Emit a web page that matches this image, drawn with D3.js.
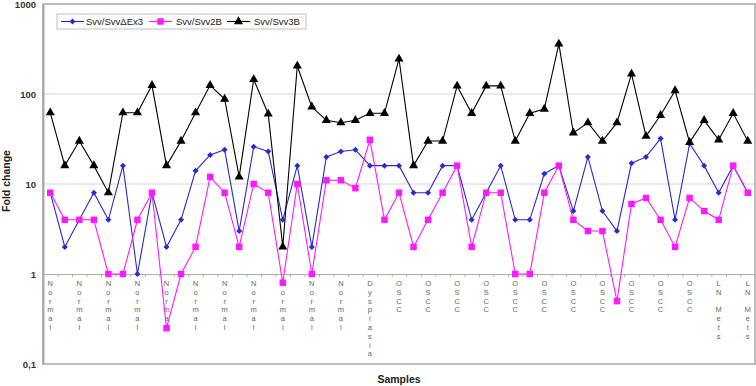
<!DOCTYPE html>
<html><head><meta charset="utf-8">
<script src="https://cdn.jsdelivr.net/npm/d3@7"></script>
<style>body{margin:0;background:#fff}svg{display:block;font-family:"Liberation Sans",Arial,sans-serif}</style>
</head><body><svg id="c" width="756" height="386"></svg>
<script>
const categories = [
 "Normal","Normal","Normal","Normal","Normal","Normal","Normal","Normal","Normal","Normal","Normal",
 "Normal","Normal","Normal","Normal","Normal","Normal","Normal","Normal","Normal","Normal","Normal",
 "Dysplasia","Dysplasia",
 "OSCC","OSCC","OSCC","OSCC","OSCC","OSCC","OSCC","OSCC","OSCC","OSCC","OSCC","OSCC","OSCC","OSCC",
 "OSCC","OSCC","OSCC","OSCC","OSCC","OSCC","OSCC","OSCC",
 "LN Mets","LN Mets","LN Mets"];
const seriesNames = ["Svv/Svv\u0394Ex3","Svv/Svv2B","Svv/Svv3B"];
const svvDEx3 = [8,2,4,8,4,16,1,8,2,4,14,21,24,3,26,23,4,16,2,20,23,24,16,16,16,8,8,16,16,4,8,16,4,4,13,16,5,20,5,3,17,20,32,4,28,16,8,16,8];
const svv2B  = [8,4,4,4,1,1,4,8,0.25,1,2,12,8,2,10,8,0.8,10,1,11,11,9,31,4,8,2,4,8,16,2,8,8,1,1,8,16,4,3,3,0.5,6,7,4,2,7,5,4,16,8];
const svv3B  = [62,16,30,16,8,62,62,125,16,30,62,125,88,12,145,60,2,205,72,51,48,51,61,61,245,16,30,30,123,61,123,123,30,61,68,360,37,48,30,48,167,34,58,109,29,51,31,61,30];
const yTicks = [0.1,1,10,100,1000];
const yTickLabels = ["0,1","1","10","100","1000"];

const svg = d3.select("#c");
const L=43,R=755,T=4,B=364;
const x = d3.scaleBand().domain(d3.range(categories.length)).range([L,R]);
const xb = d3.scaleLinear().domain([0,categories.length]).range([L,R]);
const y = d3.scaleLog().domain([0.1,1000]).range([B,T]);
const cx = i => x(i)+x.bandwidth()/2;

// gridlines
svg.append("g").selectAll("line").data([10,100]).join("line")
 .attr("x1",L).attr("x2",R).attr("y1",d=>y(d)).attr("y2",d=>y(d))
 .attr("stroke","#d4d4d4").attr("stroke-width",1);

// plot border
svg.append("rect").attr("x",L).attr("y",T).attr("width",R-L).attr("height",B-T)
 .attr("fill","none").attr("stroke","#a8a8a8").attr("stroke-width",1.5);

// category axis at y=1
const xa = svg.append("g").attr("transform",`translate(0,${y(1)})`)
 .call(d3.axisBottom(xb).tickValues(d3.range(0,categories.length+1)).tickFormat("").tickSize(3).tickSizeOuter(0));
xa.select(".domain").attr("stroke","#b0b0b0");
xa.selectAll(".tick line").attr("stroke","#b0b0b0");

// category labels (every other), vertical stacked letters
const lab = svg.append("g").attr("font-size",7.5).attr("fill","#666").attr("text-anchor","middle");
categories.forEach((c,i)=>{
  if(i%2) return;
  const t = lab.append("text").attr("x",cx(i)).attr("y",y(1)+12);
  c.split("").forEach((ch,k)=>{
    t.append("tspan").attr("x",cx(i)).attr("y",y(1)+12+k*8.8).text(ch===" "?"\u00a0":ch);
  });
});

// y axis
const ya = svg.append("g").attr("transform",`translate(${L},0)`)
 .call(d3.axisLeft(y).tickValues(yTicks).tickFormat((d,i)=>yTickLabels[i]).tickSize(0).tickPadding(7));
ya.select(".domain").attr("stroke","#a8a8a8").attr("stroke-width",2);
ya.selectAll("text").attr("font-size",9.5).attr("font-weight","bold").attr("fill","#333").attr("font-family","Liberation Sans,Arial,sans-serif");

// axis titles
svg.append("text").attr("transform","translate(10,181) rotate(-90)").attr("text-anchor","middle")
 .attr("font-size",10.5).attr("font-weight","bold").attr("fill","#222").text("Fold change");
svg.append("text").attr("x",399).attr("y",383).attr("text-anchor","middle")
 .attr("font-size",10.5).attr("font-weight","bold").attr("fill","#222").text("Samples");

// series
const colors = ["#2a2ad0","#ff19ff","#000000"];
const data = [svvDEx3, svv2B, svv3B];
const line = d3.line().x((d,i)=>cx(i)).y(d=>y(d));
const symbols = [d3.symbolSquare, d3.symbolSquare, d3.symbolTriangle];
const symSize = [18,42,36];
const rot = [45,0,0];
data.forEach((s,k)=>{
  svg.append("path").datum(s).attr("d",line).attr("fill","none").attr("stroke",colors[k]).attr("stroke-width",1.1);
});
data.forEach((s,k)=>{
  svg.append("g").selectAll("path").data(s).join("path")
   .attr("transform",(d,i)=>`translate(${cx(i)},${y(d)}) rotate(${rot[k]})`)
   .attr("d",d3.symbol().type(symbols[k]).size(symSize[k])).attr("fill",colors[k]);
});

// legend
const lg = svg.append("g");
lg.append("rect").attr("x",57).attr("y",14).attr("width",249).attr("height",15).attr("fill","#fff").attr("stroke","#c0c0c0");
const lx = [61,149,227], tx=[86,176,254];
seriesNames.forEach((n,k)=>{
  lg.append("line").attr("x1",lx[k]).attr("x2",lx[k]+23).attr("y1",21.5).attr("y2",21.5).attr("stroke",colors[k]).attr("stroke-width",1.1);
  lg.append("path").attr("transform",`translate(${lx[k]+11.5},21.5) rotate(${rot[k]})`).attr("d",d3.symbol().type(symbols[k]).size(symSize[k])).attr("fill",colors[k]);
  lg.append("text").attr("x",tx[k]).attr("y",25).attr("font-size",9.5).attr("fill","#222").text(n);
});
</script></body></html>
